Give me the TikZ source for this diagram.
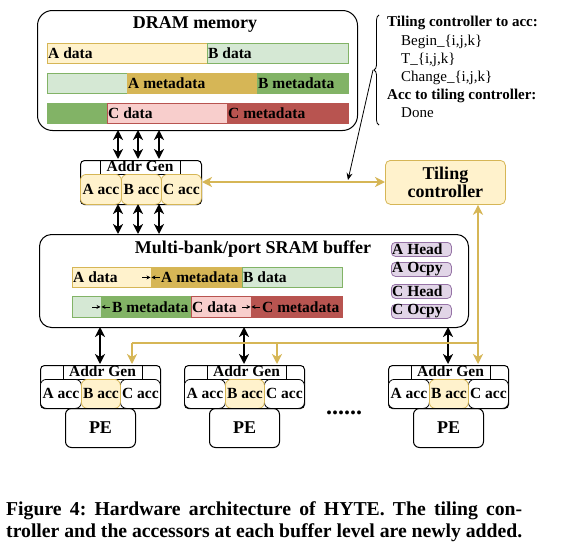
\documentclass[tikz,border=0pt]{standalone}
\usepackage{fontspec}
\setmainfont{Liberation Serif}
\usetikzlibrary{arrows.meta,decorations.pathreplacing}
\definecolor{yL}{HTML}{FFF2CC}
\definecolor{yD}{HTML}{D6B656}
\definecolor{gL}{HTML}{D5E8D4}
\definecolor{gD}{HTML}{82B366}
\definecolor{rL}{HTML}{F8CECC}
\definecolor{rD}{HTML}{B85450}
\definecolor{pL}{HTML}{E1D5E7}
\definecolor{pD}{HTML}{9673A6}
% name, x1, x2, y1, y2, style
\newcommand\seg[6]{\node[#6, anchor=north west, minimum width=#3-#2, minimum height=#5-#4, inner sep=0pt] (#1) at (#2,#4) {};}
\tikzset{
  blkbox/.style={draw=black, line width=1pt},
  ybar/.style={fill=yL, draw=yD, line width=0.8pt},
  ydbar/.style={fill=yD, draw=yD, line width=0.8pt},
  gbar/.style={fill=gL, draw=gD, line width=0.8pt},
  gdbar/.style={fill=gD, draw=gD, line width=0.8pt},
  rbar/.style={fill=rL, draw=rD, line width=0.8pt},
  rdbar/.style={fill=rD, draw=rD, line width=0.8pt},
  pbar/.style={fill=pL, draw=pD, line width=0.8pt, rounded corners=4pt},
  accy/.style={fill=yL, draw=yD, line width=0.8pt, rounded corners=6pt},
  accw/.style={fill=white, draw=black, line width=0.8pt, rounded corners=6pt},
  lbl/.style={inner xsep=1pt, inner ysep=0pt, anchor=west},
  ctr/.style={inner sep=0pt},
  ttl/.style={inner sep=0pt, font=\fontsize{18}{20}\selectfont\bfseries},
  bigtip/.tip={Stealth[length=10pt,width=10pt,inset=3pt]},
  blkarr/.style={line width=2pt, draw=black, arrows={bigtip-bigtip}},
  goldarr/.style={line width=2pt, draw=yD, arrows={-bigtip}},
  gold2arr/.style={line width=2pt, draw=yD, arrows={bigtip-bigtip}},
  goldln/.style={line width=2pt, draw=yD},
  smallarr/.style={line width=0.8pt, draw=black, arrows={-Stealth[length=4pt,width=4pt]}},
  thinarr/.style={line width=0.8pt, draw=black, arrows={-Stealth[length=7pt,width=6pt]}},
  annb/.style={inner sep=0pt, anchor=west, font=\fontsize{15}{17}\selectfont\bfseries},
  annr/.style={inner sep=0pt, anchor=west, font=\fontsize{15}{17}\selectfont},
}
\begin{document}
\frenchspacing
\begin{tikzpicture}[x=1pt,y=-1pt, font=\fontsize{15.5}{18}\selectfont\bfseries]
\useasboundingbox[fill=white] (0,0) rectangle (570,554);

% ---------- DRAM ----------
\node[blkbox, rounded corners=15pt, anchor=north west, minimum width=320, minimum height=120, inner sep=0pt] (dram) at (37,10) {};
\node[ttl] (dramt) at (195,25) {DRAM memory};
\seg{d1a}{47}{207}{43}{63}{ybar}
\seg{d1b}{207}{348}{43}{63}{gbar}
\seg{d2a}{47}{127}{73}{93}{gbar}
\seg{d2b}{127}{257}{73}{93}{ydbar}
\seg{d2c}{257}{348}{73}{93}{gdbar}
\seg{d3a}{47}{107}{103}{123}{gdbar}
\seg{d3b}{107}{227}{103}{123}{rbar}
\seg{d3c}{227}{348}{103}{123}{rdbar}
\node[lbl] (d1at) at (d1a.west) {A data};
\node[lbl] (d1bt) at (d1b.west) {B data};
\node[lbl] (d2bt) at (d2b.west) {A metadata};
\node[lbl] (d2ct) at (d2c.west) {B metadata};
\node[lbl] (d3bt) at (d3b.west) {C data};
\node[lbl] (d3ct) at (d3c.west) {C metadata};

% ---------- annotation ----------
\draw[decorate, decoration={brace, amplitude=5pt}, line width=0.8pt] (379,125) -- (379,15);
\coordinate (btip) at (373,70);
\node[annb] (an1) at (387,23) {Tiling controller to acc:};
\node[annr] (an2) at (401,42) {Begin\_\{i,j,k\}};
\node[annr] (an3) at (401,60) {T\_\{i,j,k\}};
\node[annr] (an4) at (401,78) {Change\_\{i,j,k\}};
\node[annb] (an5) at (387,96) {Acc to tiling controller:};
\node[annr] (an6) at (401,113) {Done};

% ---------- top accessor group ----------
\node[blkbox, rounded corners=4pt, anchor=north west, minimum width=121, minimum height=44, inner sep=0pt] (tg) at (80,160) {};
\seg{tag}{100}{180}{160}{174}{blkbox}
\node[ctr] (tagt) at (140,166.5) {Addr Gen};
\seg{ta}{80}{121}{174}{204}{accy}
\seg{tb}{121}{161}{174}{204}{accy}
\seg{tc}{161}{201}{174}{204}{accy}
\node[ctr] (tat) at (ta.center) {A acc};
\node[ctr] (tbt) at (tb.center) {B acc};
\node[ctr] (tct) at (tc.center) {C acc};

% ---------- tiling controller ----------
\node[fill=yL, draw=yD, line width=0.8pt, rounded corners=5pt, anchor=north west, minimum width=120, minimum height=44, inner sep=0pt] (tile) at (385,160) {};
\node[ttl, align=center] (tilet) at (tile.center) {Tiling\\[-2pt]controller};

% arrows DRAM <-> top group
\foreach \xx/\nm in {118/a,138/b,159/c}{
  \coordinate (dtop\nm) at (\xx,130);
  \coordinate (gtop\nm) at (\xx,159);
  \coordinate (gbot\nm) at (\xx,204);
  \coordinate (stop\nm) at (\xx,234);
  \draw[blkarr] (dtop\nm) -- (gtop\nm);
  \draw[blkarr] (gbot\nm) -- (stop\nm);
}
\draw[gold2arr] (tg.east |- 0,182) -- (tile.west |- 0,182);
\coordinate (onln) at (348,180);
\draw[thinarr] (btip) -- (onln);

% ---------- SRAM ----------
\node[blkbox, rounded corners=12pt, anchor=north west, minimum width=429, minimum height=93, inner sep=0pt] (sram) at (39,234) {};
\node[ttl] (sramt) at (253,249) {Multi-bank/port SRAM buffer};
\seg{s1a}{72}{151}{267}{287}{ybar}
\seg{s1b}{151}{242}{267}{287}{ydbar}
\seg{s1c}{242}{342}{267}{287}{gbar}
\seg{s2a}{72}{101}{296}{317}{gbar}
\seg{s2b}{101}{191}{296}{317}{gdbar}
\seg{s2c}{191}{251}{296}{317}{rbar}
\seg{s2d}{251}{342}{296}{317}{rdbar}
\node[lbl] (s1at) at (s1a.west) {A data};
\node[lbl] (s1bt) at ([xshift=9pt]s1b.west) {A metadata};
\node[lbl] (s1ct) at (s1c.west) {B data};
\node[lbl] (s2bt) at ([xshift=10pt]s2b.west) {B metadata};
\node[lbl] (s2ct) at (s2c.west) {C data};
\node[lbl] (s2dt) at ([xshift=10pt]s2d.west) {C metadata};
\draw[smallarr] ([xshift=-9pt]s1b.west) -- ([xshift=-0.5pt]s1b.west);
\draw[smallarr] ([xshift=9pt]s1b.west) -- ([xshift=0.5pt]s1b.west);
\draw[smallarr] ([xshift=-9pt]s2b.west) -- ([xshift=-0.5pt]s2b.west);
\draw[smallarr] ([xshift=9pt]s2b.west) -- ([xshift=0.5pt]s2b.west);
\draw[smallarr] ([xshift=-9pt]s2d.west) -- ([xshift=-0.5pt]s2d.west);
\draw[smallarr] ([xshift=9pt]s2d.west) -- ([xshift=0.5pt]s2d.west);
\seg{p1}{391}{451}{242}{256}{pbar}
\seg{p2}{391}{451}{262}{276}{pbar}
\seg{p3}{391}{451}{284}{298}{pbar}
\seg{p4}{391}{451}{304}{318}{pbar}
\node[lbl] (p1t) at (p1.west) {A Head};
\node[lbl] (p2t) at (p2.west) {A Ocpy};
\node[lbl] (p3t) at (p3.west) {C Head};
\node[lbl] (p4t) at (p4.west) {C Ocpy};

% ---------- bottom groups ----------
\foreach \xo/\i in {40/1,184/2,388/3}{
  \node[blkbox, rounded corners=4pt, anchor=north west, minimum width=120, minimum height=43, inner sep=0pt] (bg\i) at (\xo,365) {};
  \node[blkbox, anchor=north west, minimum width=79, minimum height=14, inner sep=0pt] (bag\i) at (\xo+23,365) {};
  \node[ctr] (bagt\i) at (\xo+62.5,371.5) {Addr Gen};
  \node[accw, anchor=north west, minimum width=41, minimum height=29, inner sep=0pt] (ba\i) at (\xo,379) {};
  \node[accw, anchor=north west, minimum width=40, minimum height=29, inner sep=0pt] (bc\i) at (\xo+80,379) {};
  \node[accy, anchor=north west, minimum width=39, minimum height=29, inner sep=0pt] (bb\i) at (\xo+41,379) {};
  \node[ctr] (bat\i) at (ba\i.center) {A acc};
  \node[ctr] (bbt\i) at (bb\i.center) {B acc};
  \node[ctr] (bct\i) at (bc\i.center) {C acc};
  \node[blkbox, rounded corners=6pt, anchor=north west, minimum width=70, minimum height=39, inner sep=0pt] (pe\i) at (\xo+25,408) {};
  \node[ttl] (pet\i) at (pe\i.center) {PE};
  \coordinate (sb\i) at (\xo+60,327);
  \coordinate (gt\i) at (\xo+60,364);
  \draw[blkarr] (sb\i) -- (gt\i);
}
\node[inner sep=0pt, font=\fontsize{24}{26}\selectfont\bfseries] (dots) at (344,413) {......};

% gold distribution
\coordinate (gin1) at (132,364);
\coordinate (gin2) at (277,364);
\coordinate (gin3) at (478,364);
\coordinate (bus1) at (132,343);
\coordinate (bus2) at (277,343);
\coordinate (bus3) at (478,343);
\draw[gold2arr] (tile.south -| gin3) -- (gin3);
\draw[goldln] (bus3) -- (bus1);
\draw[goldarr] (bus1) -- (gin1);
\draw[goldarr] (bus2) -- (gin2);

% ---------- caption ----------
\node[inner sep=0pt, anchor=base west, font=\fontsize{19.7}{22}\selectfont\bfseries] (cap1) at (6,515) {\makebox[516pt][s]{Figure 4: Hardware architecture of HYTE. The tiling con-}};
\node[inner sep=0pt, anchor=base west, font=\fontsize{19.7}{22}\selectfont\bfseries] (cap2) at (6,537) {\makebox[516pt][s]{troller and the accessors at each buffer level are newly added.}};
\end{tikzpicture}
\end{document}
